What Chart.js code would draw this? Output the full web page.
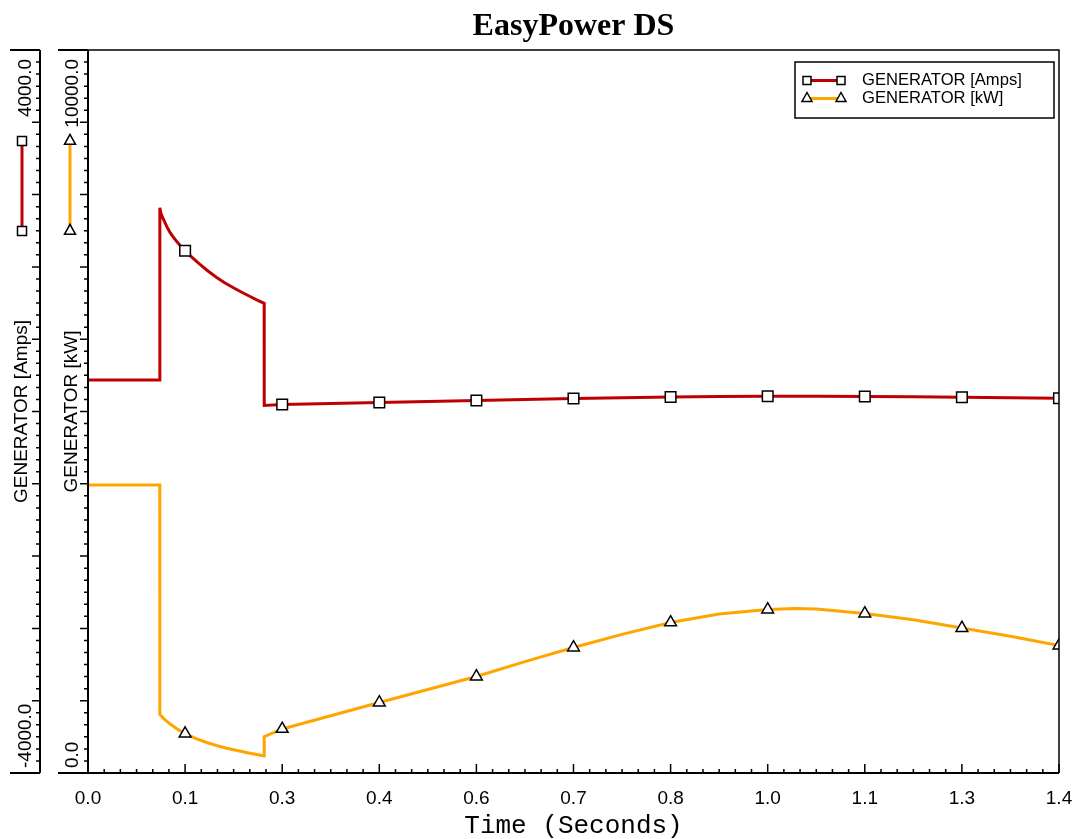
<!DOCTYPE html>
<html>
<head>
<meta charset="utf-8">
<title>EasyPower DS</title>
<script src="https://cdn.jsdelivr.net/npm/chart.js@4.4.1/dist/chart.umd.min.js"></script>
<style>
  html, body { margin: 0; padding: 0; background: #fff; }
  #wrap { width: 1077px; height: 839px; }
</style>
</head>
<body>
<div id="wrap"><canvas id="chart" width="1077" height="839"></canvas></div>
<script>
// Time axis (seconds)
const xMin = 0, xMax = 1.4;
const xTickValues = [0, 0.14, 0.28, 0.42, 0.56, 0.70, 0.84, 0.98, 1.12, 1.26, 1.40];
const xTickLabels = ["0.0", "0.1", "0.3", "0.4", "0.6", "0.7", "0.8", "1.0", "1.1", "1.3", "1.4"];

// Marker symbols sit on these times
const markerTimes = [0.14, 0.28, 0.42, 0.56, 0.70, 0.84, 0.98, 1.12, 1.26, 1.40];

// GENERATOR [Amps]
const ampsTime = [0, 0.1035, 0.1036, 0.105, 0.108, 0.111, 0.114, 0.118, 0.122, 0.128, 0.134, 0.14, 0.15, 0.161,
  0.172, 0.185, 0.197, 0.209, 0.221, 0.233, 0.244, 0.254, 0.2541,
  0.28, 0.35, 0.42, 0.49, 0.56, 0.63, 0.70, 0.77, 0.84, 0.91, 0.98, 1.05, 1.12, 1.19, 1.26, 1.33, 1.40];
const ampsValues = [348, 348, 2255, 2195, 2140, 2090, 2040, 1985, 1940, 1880, 1827, 1778, 1705, 1630,
  1560, 1485, 1425, 1372, 1322, 1275, 1233, 1197, 66,
  77, 89, 100, 111, 122, 133, 144, 152, 160, 165, 168, 168, 166, 162, 157, 152, 146];

// GENERATOR [kW]
const kwTime = [0, 0.1035, 0.1036, 0.11, 0.118, 0.128, 0.14, 0.155, 0.17, 0.185, 0.2, 0.215, 0.23, 0.254, 0.2541,
  0.28, 0.35, 0.42, 0.49, 0.56, 0.63, 0.70, 0.77, 0.84, 0.91, 0.98, 1.02, 1.05, 1.12, 1.19, 1.26, 1.33, 1.40];
const kwValues = [3983, 3983, 809, 745, 680, 612, 545, 478, 425, 380, 343, 310, 280, 236, 502,
  609, 792, 975, 1155, 1335, 1540, 1736, 1917, 2082, 2199, 2261, 2275, 2268, 2206, 2120, 2005, 1890, 1763];

// Axis ranges
const ampsRange = [-4000, 4000];
const kwRange = [0, 10000];

const ampsColor = "#C00000";
const kwColor = "#FFA500";
const sansFont = '"Liberation Sans", Arial, sans-serif';
const labelFont = '19px ' + sansFont;

const isMarker = (t) => markerTimes.some(m => Math.abs(m - t) < 1e-6);
const toPoints = (times, values) => times.map((t, i) => ({ x: t, y: values[i] }));

// small marker shapes for legend + axis swatches
function drawMarker(ctx, style, x, y, size) {
    ctx.save();
    ctx.fillStyle = "#fff";
    ctx.strokeStyle = "#000";
    ctx.lineWidth = 1.5;
    ctx.beginPath();
    if (style === "rect") {
        ctx.rect(x - size / 2, y - size / 2, size, size);
    } else {
        const h = size * 0.9;
        ctx.moveTo(x, y - h * 2 / 3);
        ctx.lineTo(x + size / 2, y + h / 3);
        ctx.lineTo(x - size / 2, y + h / 3);
        ctx.closePath();
    }
    ctx.fill();
    ctx.stroke();
    ctx.restore();
}

function drawRotated(ctx, text, x, y, align) {
    ctx.save();
    ctx.translate(x, y);
    ctx.rotate(-Math.PI / 2);
    ctx.textAlign = align;
    ctx.textBaseline = "alphabetic";
    ctx.fillText(text, 0, 0);
    ctx.restore();
}

function drawYAxis(ctx, scale, opt) {
    const x = scale.right;
    const top = scale.getPixelForValue(scale.max);
    const bottom = scale.getPixelForValue(scale.min);
    ctx.strokeStyle = "#000";
    ctx.lineWidth = 2;
    ctx.beginPath();
    ctx.moveTo(x, top); ctx.lineTo(x, bottom);
    ctx.moveTo(x - 30, top); ctx.lineTo(x, top);
    ctx.moveTo(x - 30, bottom); ctx.lineTo(x, bottom);
    ctx.stroke();

    // 10 major divisions, 6 minor steps each
    ctx.lineWidth = 1.5;
    ctx.beginPath();
    for (let i = 0; i <= 60; i++) {
        const py = scale.getPixelForValue(scale.min + (scale.max - scale.min) * i / 60);
        const len = i % 6 === 0 ? 8 : 4;
        ctx.moveTo(x - len, py); ctx.lineTo(x, py);
    }
    ctx.stroke();

    ctx.fillStyle = "#000";
    ctx.font = labelFont;
    drawRotated(ctx, scale.max.toFixed(1), opt.labelX, top + 9, "right");
    drawRotated(ctx, scale.min.toFixed(1), opt.labelX, bottom - 5, "left");
    drawRotated(ctx, opt.title, opt.titleX, (top + bottom) / 2, "center");

    // series swatch on the axis
    ctx.strokeStyle = opt.color;
    ctx.lineWidth = 3;
    ctx.beginPath();
    ctx.moveTo(opt.swatchX, top + 91); ctx.lineTo(opt.swatchX, top + 181);
    ctx.stroke();
    drawMarker(ctx, opt.marker, opt.swatchX, top + 91, opt.marker === "rect" ? 9 : 11);
    drawMarker(ctx, opt.marker, opt.swatchX, top + 181, opt.marker === "rect" ? 9 : 11);
}

const frame = {
    id: "frame",
    afterDatasetsDraw(chart) {
        const { ctx, chartArea: a, scales } = chart;
        ctx.save();

        // Title centred on the plot
        ctx.fillStyle = "#000";
        ctx.font = 'bold 32px "Liberation Serif", "Times New Roman", serif';
        ctx.textAlign = "center";
        ctx.textBaseline = "alphabetic";
        ctx.fillText("EasyPower DS", (a.left + a.right) / 2, 35);

        // top + right border
        ctx.strokeStyle = "#000";
        ctx.lineWidth = 1.5;
        ctx.beginPath();
        ctx.moveTo(a.left, a.top); ctx.lineTo(a.right, a.top); ctx.lineTo(a.right, a.bottom);
        ctx.stroke();

        // time axis
        const xs = scales.x;
        ctx.lineWidth = 2;
        ctx.beginPath();
        ctx.moveTo(a.left, a.bottom); ctx.lineTo(a.right, a.bottom);
        ctx.stroke();
        ctx.lineWidth = 1.5;
        ctx.beginPath();
        for (let i = 0; i <= 60; i++) {
            const px = xs.getPixelForValue(xMin + (xMax - xMin) * i / 60);
            const len = i % 6 === 0 ? 9 : 4;
            ctx.moveTo(px, a.bottom); ctx.lineTo(px, a.bottom - len);
        }
        ctx.stroke();

        drawYAxis(ctx, scales.yAmps, { labelX: 31, titleX: 27, swatchX: 22, color: ampsColor, marker: "rect", title: chart.data.datasets[0].label });
        drawYAxis(ctx, scales.yKw, { labelX: 78, titleX: 77, swatchX: 70, color: kwColor, marker: "triangle", title: chart.data.datasets[1].label });

        // Legend box
        const bx = 795, by = 62, bw = 259, bh = 56;
        ctx.fillStyle = "#fff";
        ctx.fillRect(bx, by, bw, bh);
        ctx.strokeStyle = "#000";
        ctx.lineWidth = 1.5;
        ctx.strokeRect(bx, by, bw, bh);
        const rows = [
            { y: 80.5, color: ampsColor, marker: "rect", size: 8 },
            { y: 98.5, color: kwColor, marker: "triangle", size: 10 }
        ];
        rows.forEach((r, i) => {
            ctx.strokeStyle = r.color;
            ctx.lineWidth = 3;
            ctx.beginPath();
            ctx.moveTo(807, r.y); ctx.lineTo(841, r.y);
            ctx.stroke();
            drawMarker(ctx, r.marker, 807, r.y, r.size);
            drawMarker(ctx, r.marker, 841, r.y, r.size);
            ctx.fillStyle = "#000";
            ctx.font = "16.6px " + sansFont;
            ctx.textAlign = "left";
            ctx.textBaseline = "middle";
            ctx.fillText(chart.data.datasets[i].label, 862, r.y);
        });

        ctx.restore();
    }
};

new Chart(document.getElementById("chart").getContext("2d"), {
    type: "line",
    data: {
        datasets: [
            {
                label: "GENERATOR [Amps]",
                data: toPoints(ampsTime, ampsValues),
                yAxisID: "yAmps",
                borderColor: ampsColor,
                borderWidth: 3,
                tension: 0,
                fill: false,
                pointStyle: "rect",
                pointRadius: c => isMarker(c.raw.x) ? 7.5 : 0,
                pointHoverRadius: c => isMarker(c.raw.x) ? 7.5 : 0,
                pointBackgroundColor: "#fff",
                pointBorderColor: "#000",
                pointBorderWidth: 1.5
            },
            {
                label: "GENERATOR [kW]",
                data: toPoints(kwTime, kwValues),
                yAxisID: "yKw",
                borderColor: kwColor,
                borderWidth: 3,
                tension: 0,
                fill: false,
                pointStyle: "triangle",
                pointRadius: c => isMarker(c.raw.x) ? 6.8 : 0,
                pointHoverRadius: c => isMarker(c.raw.x) ? 6.8 : 0,
                pointBackgroundColor: "#fff",
                pointBorderColor: "#000",
                pointBorderWidth: 1.5
            }
        ]
    },
    options: {
        responsive: false,
        animation: false,
        events: [],
        layout: { padding: { top: 50, right: 18, bottom: 0, left: 0 } },
        plugins: {
            legend: { display: false },
            title: { display: false },
            tooltip: { enabled: false }
        },
        scales: {
            x: {
                type: "linear",
                min: xMin,
                max: xMax,
                afterBuildTicks: s => { s.ticks = xTickValues.map(v => ({ value: v })); },
                afterFit: s => { s.height = 66; s.paddingLeft = 0; s.paddingRight = 0; },
                ticks: {
                    autoSkip: false,
                    maxRotation: 0,
                    padding: 14,
                    color: "#000",
                    font: { family: sansFont, size: 19 },
                    callback: (v, i) => xTickLabels[i]
                },
                grid: { display: false, drawTicks: false },
                border: { display: false },
                title: {
                    display: true,
                    text: "Time (Seconds)",
                    color: "#000",
                    font: { family: '"Liberation Mono", "Courier New", monospace', size: 26, lineHeight: 1 },
                    padding: { top: 0, bottom: 0 }
                }
            },
            yAmps: {
                type: "linear",
                position: "left",
                weight: 2,
                min: ampsRange[0],
                max: ampsRange[1],
                ticks: { display: false },
                grid: { display: false, drawTicks: false },
                border: { display: false },
                afterFit: s => { s.width = 40; }
            },
            yKw: {
                type: "linear",
                position: "left",
                weight: 1,
                min: kwRange[0],
                max: kwRange[1],
                ticks: { display: false },
                grid: { display: false, drawTicks: false },
                border: { display: false },
                afterFit: s => { s.width = 48; }
            }
        }
    },
    plugins: [frame]
});
</script>
</body>
</html>
